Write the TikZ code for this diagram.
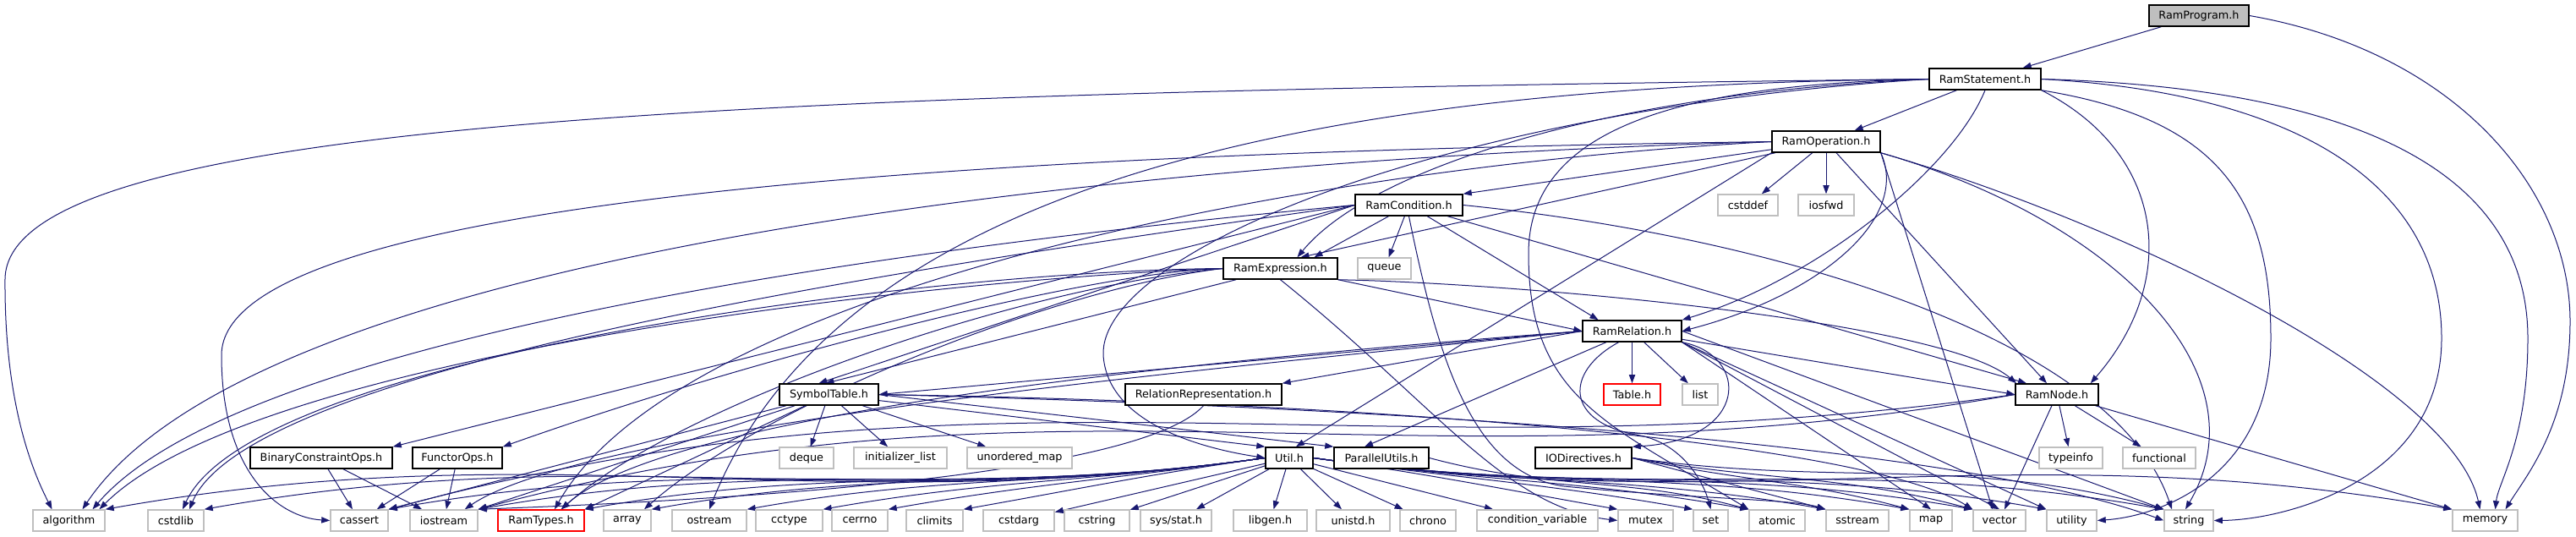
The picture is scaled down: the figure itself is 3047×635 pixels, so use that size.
\documentclass[tikz,border=0pt]{standalone}
\usepackage{fontspec}
\setmainfont{DejaVu Sans}
\usetikzlibrary{arrows.meta}
\definecolor{edgec}{RGB}{25,25,112}
\definecolor{grayb}{RGB}{191,191,191}
\pgfdeclarelayer{bg}
\pgfsetlayers{bg,main}
\tikzset{
  box/.style={draw=black, line width=0.75pt, fill=white, inner sep=0pt, minimum height=12.5pt, font=\fontsize{6.4}{7}\selectfont},
  sysbox/.style={box, draw=grayb},
  redbox/.style={box, draw=red},
  topbox/.style={box, fill=grayb},
  e/.style={draw=edgec, line width=0.5pt, -{Triangle[length=5pt,width=3.6pt]}},
}
\newcommand\NB[6]{%
  \pgfmathsetmacro\nbcx{(#3+#4)/2}%
  \pgfmathsetmacro\nbw{(#4-#3)*0.5}%
  \pgfmathsetmacro\nbcy{#5+12.5}%
  \node[#1, minimum width=\nbw pt] (#2) at (\nbcx,\nbcy) {#6};}
\begin{document}
\begin{tikzpicture}[x=0.5pt,y=-0.5pt]
\useasboundingbox (0,0) rectangle (3047,635);
% project nodes
\NB{topbox}{RamProgram}{2542}{2660}{6}{RamProgram.h}
\NB{box}{RamStatement}{2282}{2414}{81}{RamStatement.h}
\NB{box}{RamOperation}{2096}{2224}{155}{RamOperation.h}
\NB{box}{RamCondition}{1603}{1730}{230}{RamCondition.h}
\NB{sysbox}{cstddef}{2032}{2103}{230}{cstddef}
\NB{sysbox}{iosfwd}{2127}{2193}{230}{iosfwd}
\NB{box}{RamExpression}{1447}{1582}{305}{RamExpression.h}
\NB{sysbox}{queue}{1606}{1669}{305}{queue}
\NB{box}{RamRelation}{1872}{1989}{379}{RamRelation.h}
\NB{box}{SymbolTable}{922}{1039}{454}{SymbolTable.h}
\NB{box}{RelRep}{1331}{1516}{454}{RelationRepresentation.h}
\NB{redbox}{Table}{1897}{1964}{454}{Table.h}
\NB{sysbox}{list}{1990}{2032}{454}{list}
\NB{box}{RamNode}{2384}{2482}{454}{RamNode.h}
\NB{box}{BinOps}{296}{464}{529}{BinaryConstraintOps.h}
\NB{box}{FunctorOps}{488}{594}{529}{FunctorOps.h}
\NB{sysbox}{deque}{922}{986}{529}{deque}
\NB{sysbox}{initlist}{1010}{1120}{529}{initializer\_list}
\NB{sysbox}{umap}{1144}{1268}{529}{unordered\_map}
\NB{box}{Util}{1497}{1553}{529}{Util.h}
\NB{box}{ParUtils}{1578}{1690}{529}{ParallelUtils.h}
\NB{box}{IODir}{1816}{1930}{529}{IODirectives.h}
\NB{sysbox}{typeinfo}{2412}{2487}{529}{typeinfo}
\NB{sysbox}{functional}{2511}{2597}{529}{functional}
% bottom row
\NB{sysbox}{algorithm}{39}{124}{603}{algorithm}
\NB{sysbox}{cstdlib}{175}{241}{603}{cstdlib}
\NB{sysbox}{cassert}{391}{459}{603}{cassert}
\NB{sysbox}{iostream}{485}{565}{603}{iostream}
\NB{redbox}{RamTypes}{589}{691}{603}{RamTypes.h}
\NB{sysbox}{array}{714}{770}{603}{array}
\NB{sysbox}{ostream}{795}{883}{603}{ostream}
\NB{sysbox}{cctype}{894}{973}{603}{cctype}
\NB{sysbox}{cerrno}{984}{1050}{603}{cerrno}
\NB{sysbox}{climits}{1072}{1139}{603}{climits}
\NB{sysbox}{cstdarg}{1163}{1247}{603}{cstdarg}
\NB{sysbox}{cstring}{1259}{1336}{603}{cstring}
\NB{sysbox}{sysstat}{1349}{1433}{603}{sys/stat.h}
\NB{sysbox}{libgen}{1459}{1546}{603}{libgen.h}
\NB{sysbox}{unistd}{1557}{1644}{603}{unistd.h}
\NB{sysbox}{chrono}{1656}{1722}{603}{chrono}
\NB{sysbox}{condvar}{1747}{1890}{603}{condition\_variable}
\NB{sysbox}{mutex}{1914}{1979}{603}{mutex}
\NB{sysbox}{set}{2003}{2044}{603}{set}
\NB{sysbox}{atomic}{2069}{2135}{603}{atomic}
\NB{sysbox}{sstream}{2160}{2234}{603}{sstream}
\NB{sysbox}{map}{2259}{2309}{603}{map}
\NB{sysbox}{vector}{2334}{2396}{603}{vector}
\NB{sysbox}{utility}{2421}{2480}{603}{utility}
\NB{sysbox}{string}{2560}{2618}{603}{string}
\NB{sysbox}{memory}{2901}{2978}{603}{memory}

\begin{pgfonlayer}{bg}
% RamProgram
\draw[e] (RamProgram) -- (RamStatement);
\draw[e] (RamProgram.east) .. controls (2900,60) and (3040,220) .. (3040,380) .. controls (3040,500) and (2990,560) .. ([xshift=12pt]memory.north);
% RamStatement
\draw[e] (RamStatement) -- (RamOperation);
\draw[e] (RamStatement.south) .. controls (2310,200) and (2150,330) .. (RamRelation.north east);
\draw[e] (RamStatement.south east) .. controls (2560,180) and (2580,330) .. ([xshift=-5pt]RamNode.north east);
\draw[e] (RamStatement.west) .. controls (1900,110) and (1620,200) .. ([xshift=10pt]RamExpression.north);
\draw[e] (RamStatement.west) .. controls (1700,130) and (1300,300) .. (1305,420) .. controls (1310,500) and (1420,530) .. (Util.west);
\draw[e] (RamStatement.west) .. controls (1600,100) and (1000,200) .. (ostream.north);
\draw[e] (RamStatement.west) .. controls (900,110) and (8,140) .. (6,330) .. controls (5,480) and (40,560) .. ([xshift=-10pt]algorithm.north);
\draw[e] (RamStatement.west) .. controls (1990,100) and (1808,150) .. (1808,300) .. controls (1808,470) and (1900,500) .. (atomic.north west);
\draw[e] (RamStatement.south east) .. controls (2620,140) and (2686,230) .. (2686,400) .. controls (2686,560) and (2560,610) .. (utility.east);
\draw[e] (RamStatement.east) .. controls (2720,110) and (2888,220) .. (2888,400) .. controls (2888,570) and (2700,615) .. (string.east);
\draw[e] (RamStatement.east) .. controls (2820,105) and (2990,220) .. (2990,400) .. controls (2990,520) and (2955,570) .. ([xshift=6pt]memory.north);
% RamOperation
\draw[e] (RamOperation) -- (RamCondition.north east);
\draw[e] (RamOperation) -- ([xshift=12pt]RamExpression.north);
\draw[e] (RamOperation.south east) .. controls (2260,260) and (2150,350) .. (RamRelation.east);
\draw[e] (RamOperation) -- ([xshift=-6pt]RamNode.north);
\draw[e] (RamOperation.south west) -- ([xshift=4pt]Util.north);
\draw[e] (RamOperation) -- (cstddef);
\draw[e] (RamOperation) -- (iosfwd);
\draw[e] (RamOperation.west) .. controls (1200,180) and (262,230) .. (262,420) .. controls (262,560) and (330,612) .. (cassert.west);
\draw[e] (RamOperation.west) .. controls (1500,200) and (800,350) .. ([xshift=8pt]RamTypes.north);
\draw[e] (RamOperation.west) .. controls (1300,190) and (300,300) .. ([xshift=8pt]algorithm.north);
\draw[e] (RamOperation.south east) -- ([xshift=-4pt]vector.north);
\draw[e] (RamOperation.south east) .. controls (2500,260) and (2680,440) .. ([xshift=-2pt]string.north);
\draw[e] (RamOperation.south east) .. controls (2500,260) and (2900,450) .. ([xshift=-3pt]memory.north);
% RamCondition
\draw[e] (RamCondition) -- ([xshift=20pt]RamExpression.north);
\draw[e] (RamCondition) -- (queue);
\draw[e] (RamCondition) -- ([xshift=-20pt]RamRelation.north);
\draw[e] (RamCondition) -- ([xshift=-18pt]RamNode.north);
\draw[e] (RamCondition.west) -- ([xshift=-6pt]SymbolTable.north);
\draw[e] (RamCondition.west) -- (BinOps.north east);
\draw[e] (RamCondition.west) .. controls (1200,280) and (300,380) .. ([xshift=14pt]algorithm.north);
\draw[e] (RamCondition.west) .. controls (1200,300) and (300,420) .. ([xshift=8pt]cstdlib.north);
\draw[e] (RamCondition.south) .. controls (1700,420) and (1740,560) .. (1850,575) .. controls (2000,590) and (2120,590) .. (sstream.north west);
\draw[e] (RamCondition.east) .. controls (2100,280) and (2500,400) .. ([xshift=-10pt]string.north);
% RamExpression
\draw[e] (RamExpression.west) .. controls (1300,320) and (900,420) .. (FunctorOps.north east);
\draw[e] (RamExpression) -- ([xshift=-2pt]SymbolTable.north);
\draw[e] (RamExpression.south east) -- (RamRelation.west);
\draw[e] (RamExpression.south east) .. controls (1800,335) and (2300,380) .. ([xshift=-24pt]RamNode.north);
\draw[e] (RamExpression.south) .. controls (1700,480) and (1780,600) .. (mutex.west);
\draw[e] (RamExpression.west) .. controls (1200,340) and (800,480) .. ([xshift=12pt]RamTypes.north);
\draw[e] (RamExpression.west) .. controls (1100,320) and (300,420) .. ([xshift=4pt]cstdlib.north);
\draw[e] (RamExpression.west) .. controls (1100,330) and (300,420) .. ([xshift=18pt]algorithm.north);
\draw[e] (RamExpression.west) .. controls (1250,340) and (900,480) .. ([xshift=10pt]array.north);
% RamRelation
\draw[e] (RamRelation.west) -- (SymbolTable.east);
\draw[e] (RamRelation.west) -- (RelRep.north east);
\draw[e] (RamRelation) -- (Table);
\draw[e] (RamRelation) -- (list);
\draw[e] (RamRelation) -- (RamNode.west);
\draw[e] (RamRelation) -- ([xshift=-10pt]ParUtils.north);
\draw[e] (RamRelation.south east) .. controls (2070,420) and (2070,520) .. (IODir.north east);
\draw[e] ([xshift=-8pt]RamRelation.south) .. controls (1850,440) and (1850,500) .. (1940,515) .. controls (1990,525) and (2015,570) .. (set.north);
\draw[e] (RamRelation.west) .. controls (1500,420) and (800,480) .. ([xshift=-14pt]RamTypes.north east);
\draw[e] (RamRelation.west) .. controls (1500,430) and (700,500) .. ([xshift=-8pt]iostream.north east);
\draw[e] (RamRelation.south east) -- (map.north);
\draw[e] (RamRelation.south east) -- (vector.north);
\draw[e] (RamRelation.south east) -- (utility.north west);
\draw[e] (RamRelation.east) -- (string.north west);
% SymbolTable
\draw[e] (SymbolTable) -- (deque);
\draw[e] (SymbolTable) -- (initlist);
\draw[e] (SymbolTable) -- (umap);
\draw[e] (SymbolTable) -- (Util.north west);
\draw[e] (SymbolTable.east) -- (ParUtils.north west);
\draw[e] (SymbolTable.east) .. controls (1600,480) and (2300,520) .. (string.west);
\draw[e] (SymbolTable.east) .. controls (1600,475) and (2200,520) .. (vector.north west);
\draw[e] (SymbolTable) -- (RamTypes.north east);
\draw[e] (SymbolTable) -- (iostream.north east);
\draw[e] (SymbolTable) -- (cassert.north east);
% others
\draw[e] (RelRep.south) .. controls (1350,560) and (900,590) .. (iostream.north east);
\draw[e] (BinOps) -- (cassert);
\draw[e] (BinOps) -- (iostream);
\draw[e] (FunctorOps) -- (cassert);
\draw[e] (FunctorOps) -- (iostream);
\draw[e] (RamNode) -- (typeinfo);
\draw[e] (RamNode) -- (functional);
\draw[e] (RamNode) -- (vector);
\draw[e] (RamNode) -- (memory.north west);
\draw[e] (RamNode.west) to[out=190,in=15] (iostream.north east);
\draw[e] (RamNode.west) to[out=188,in=15] (cassert.north east);
\draw[e] (ParUtils.east) to[out=-15,in=165] (atomic.north west);
\draw[e] (IODir.east) to[out=-15,in=165] (sstream.north west);
\draw[e] (IODir.east) to[out=-12,in=165] (map.north west);
\draw[e] (IODir.east) to[out=-10,in=165] (vector.north west);
\draw[e] (IODir.east) to[out=-8,in=165] (string.north west);
% Util
\foreach \t in {algorithm,cstdlib,cassert,iostream,RamTypes,array,ostream,cctype,cerrno,climits}
  \draw[e] (Util.west) to[out=188,in=10] (\t.north east);
\foreach \t in {cstdarg,cstring,sysstat,libgen,unistd,chrono,condvar}
  \draw[e] (Util) -- (\t);
\foreach \t in {mutex,set,atomic,sstream,map,vector,utility,string,memory}
  \draw[e] (Util.east) to[out=-8,in=170] (\t.north west);
\end{pgfonlayer}
\end{tikzpicture}
\end{document}
